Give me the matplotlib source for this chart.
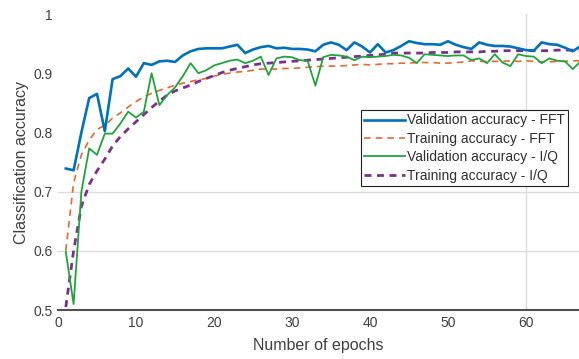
import matplotlib
matplotlib.use("Agg")
import matplotlib.pyplot as plt
import numpy as np

plt.rcParams['font.family'] = ['Liberation Sans', 'DejaVu Sans']

epochs = list(range(1, 68))

val_fft = [0.739, 0.736, 0.800, 0.858, 0.865, 0.802, 0.890, 0.895, 0.908, 0.894,
           0.917, 0.914, 0.920, 0.921, 0.919, 0.930, 0.937, 0.941, 0.942, 0.942,
           0.942, 0.945, 0.948, 0.934, 0.940, 0.944, 0.946, 0.942, 0.943, 0.941,
           0.941, 0.940, 0.937, 0.948, 0.952, 0.948, 0.939, 0.952, 0.945, 0.935,
           0.949, 0.935, 0.939, 0.946, 0.954, 0.951, 0.949, 0.949, 0.948, 0.954,
           0.948, 0.944, 0.941, 0.952, 0.948, 0.946, 0.946, 0.945, 0.942, 0.939,
           0.938, 0.952, 0.949, 0.948, 0.943, 0.937, 0.946]

train_fft = [0.600, 0.715, 0.762, 0.787, 0.805, 0.812, 0.824, 0.833, 0.843, 0.852,
             0.860, 0.866, 0.871, 0.875, 0.880, 0.883, 0.886, 0.889, 0.891, 0.895,
             0.898, 0.900, 0.902, 0.903, 0.905, 0.907, 0.907, 0.907, 0.908, 0.908,
             0.909, 0.910, 0.911, 0.912, 0.912, 0.912, 0.913, 0.914, 0.915, 0.914,
             0.915, 0.916, 0.916, 0.917, 0.917, 0.918, 0.918, 0.918, 0.917, 0.917,
             0.918, 0.919, 0.921, 0.920, 0.920, 0.920, 0.920, 0.921, 0.920, 0.921,
             0.920, 0.919, 0.919, 0.920, 0.920, 0.921, 0.921]

val_iq = [0.598, 0.510, 0.700, 0.773, 0.762, 0.798, 0.798, 0.815, 0.835, 0.825,
          0.835, 0.900, 0.846, 0.863, 0.876, 0.895, 0.917, 0.900, 0.905, 0.913,
          0.917, 0.921, 0.923, 0.917, 0.921, 0.928, 0.897, 0.925, 0.928, 0.927,
          0.922, 0.921, 0.879, 0.927, 0.931, 0.930, 0.928, 0.922, 0.928, 0.927,
          0.928, 0.929, 0.931, 0.930, 0.926, 0.917, 0.932, 0.931, 0.930, 0.929,
          0.930, 0.930, 0.922, 0.925, 0.917, 0.932, 0.918, 0.912, 0.932, 0.929,
          0.928, 0.917, 0.925, 0.921, 0.920, 0.907, 0.920]

train_iq = [0.505, 0.600, 0.675, 0.712, 0.735, 0.755, 0.777, 0.793, 0.806, 0.818,
            0.830, 0.842, 0.853, 0.863, 0.870, 0.875, 0.880, 0.886, 0.891, 0.896,
            0.901, 0.905, 0.908, 0.911, 0.914, 0.916, 0.917, 0.918, 0.919, 0.920,
            0.921, 0.922, 0.923, 0.924, 0.925, 0.926, 0.927, 0.928, 0.929, 0.930,
            0.931, 0.932, 0.934, 0.934, 0.934, 0.934, 0.934, 0.935, 0.935, 0.935,
            0.936, 0.936, 0.936, 0.936, 0.937, 0.937, 0.938, 0.938, 0.938, 0.938,
            0.938, 0.938, 0.938, 0.939, 0.939, 0.939, 0.939]

labels = ['Validation accuracy - FFT', 'Training accuracy - FFT',
          'Validation accuracy - I/Q', 'Training accuracy - I/Q']
xticks = [0, 10, 20, 30, 40, 50, 60]
yticks = [0.5, 0.6, 0.7, 0.8, 0.9, 1.0]
ytick_labels = ['0.5', '0.6', '0.7', '0.8', '0.9', '1']

fig = plt.figure(figsize=(5.79, 3.59), dpi=100)
ax = fig.add_axes([58/579, 1-310/359, 1-58/579, (310-14)/359])

grid_c = '#dcdcdc'
for gy in [0.6, 0.7]:
    ax.axhline(gy, color=grid_c, lw=1.0, zorder=0)
ax.axvline(60, color=grid_c, lw=1.0, zorder=0)

ax.plot(epochs, val_fft, color='#0072BD', lw=1.9, label=labels[0], zorder=3)
ax.plot(epochs, train_fft, color='#E8692C', lw=1.2, ls=(0, (4, 3)), label=labels[1], zorder=2)
ax.plot(epochs, val_iq, color='#1EA53A', lw=1.3, label=labels[2], zorder=3)
ax.plot(epochs, train_iq, color='#7E2F8E', lw=2.0, ls=(0, (2.5, 2)), label=labels[3], zorder=2)

ax.set_xlim(0, (579-58)/7.8)
ax.set_ylim(0.5, 1.0)

ax.set_xticks(xticks)
ax.set_yticks(yticks)
ax.set_yticklabels(ytick_labels)
ax.tick_params(axis='both', which='major', length=0, labelsize=10, colors='#404040', pad=4)
ax.set_yticks([0.5, 0.6, 0.7], minor=True)
ax.set_xticks([60], minor=True)
ax.tick_params(axis='y', which='minor', length=4, width=1, direction='out', color='#404040',
               left=True, right=True)
ax.tick_params(axis='x', which='minor', length=4, width=1, direction='in', color='#404040',
               bottom=True, top=True)

for s in ['top', 'right', 'left']:
    ax.spines[s].set_visible(False)
ax.spines['bottom'].set_color('#505050')
ax.spines['bottom'].set_linewidth(1.5)

ax.set_xlabel('Number of epochs', fontsize=11.5, color='#404040', labelpad=6)
ax.set_ylabel('Classification accuracy', fontsize=11.5, color='#404040', labelpad=3)

leg = ax.legend(loc='upper right', bbox_to_anchor=(0.979, 0.676), fontsize=10,
                handlelength=2.9, handletextpad=0.15, labelspacing=0.32, borderpad=0.25,
                borderaxespad=0, fancybox=False, framealpha=1, edgecolor='#202020')
leg.get_frame().set_linewidth(0.8)
for t in leg.get_texts():
    t.set_color('#303030')

fig.savefig('out.png', dpi=100)
